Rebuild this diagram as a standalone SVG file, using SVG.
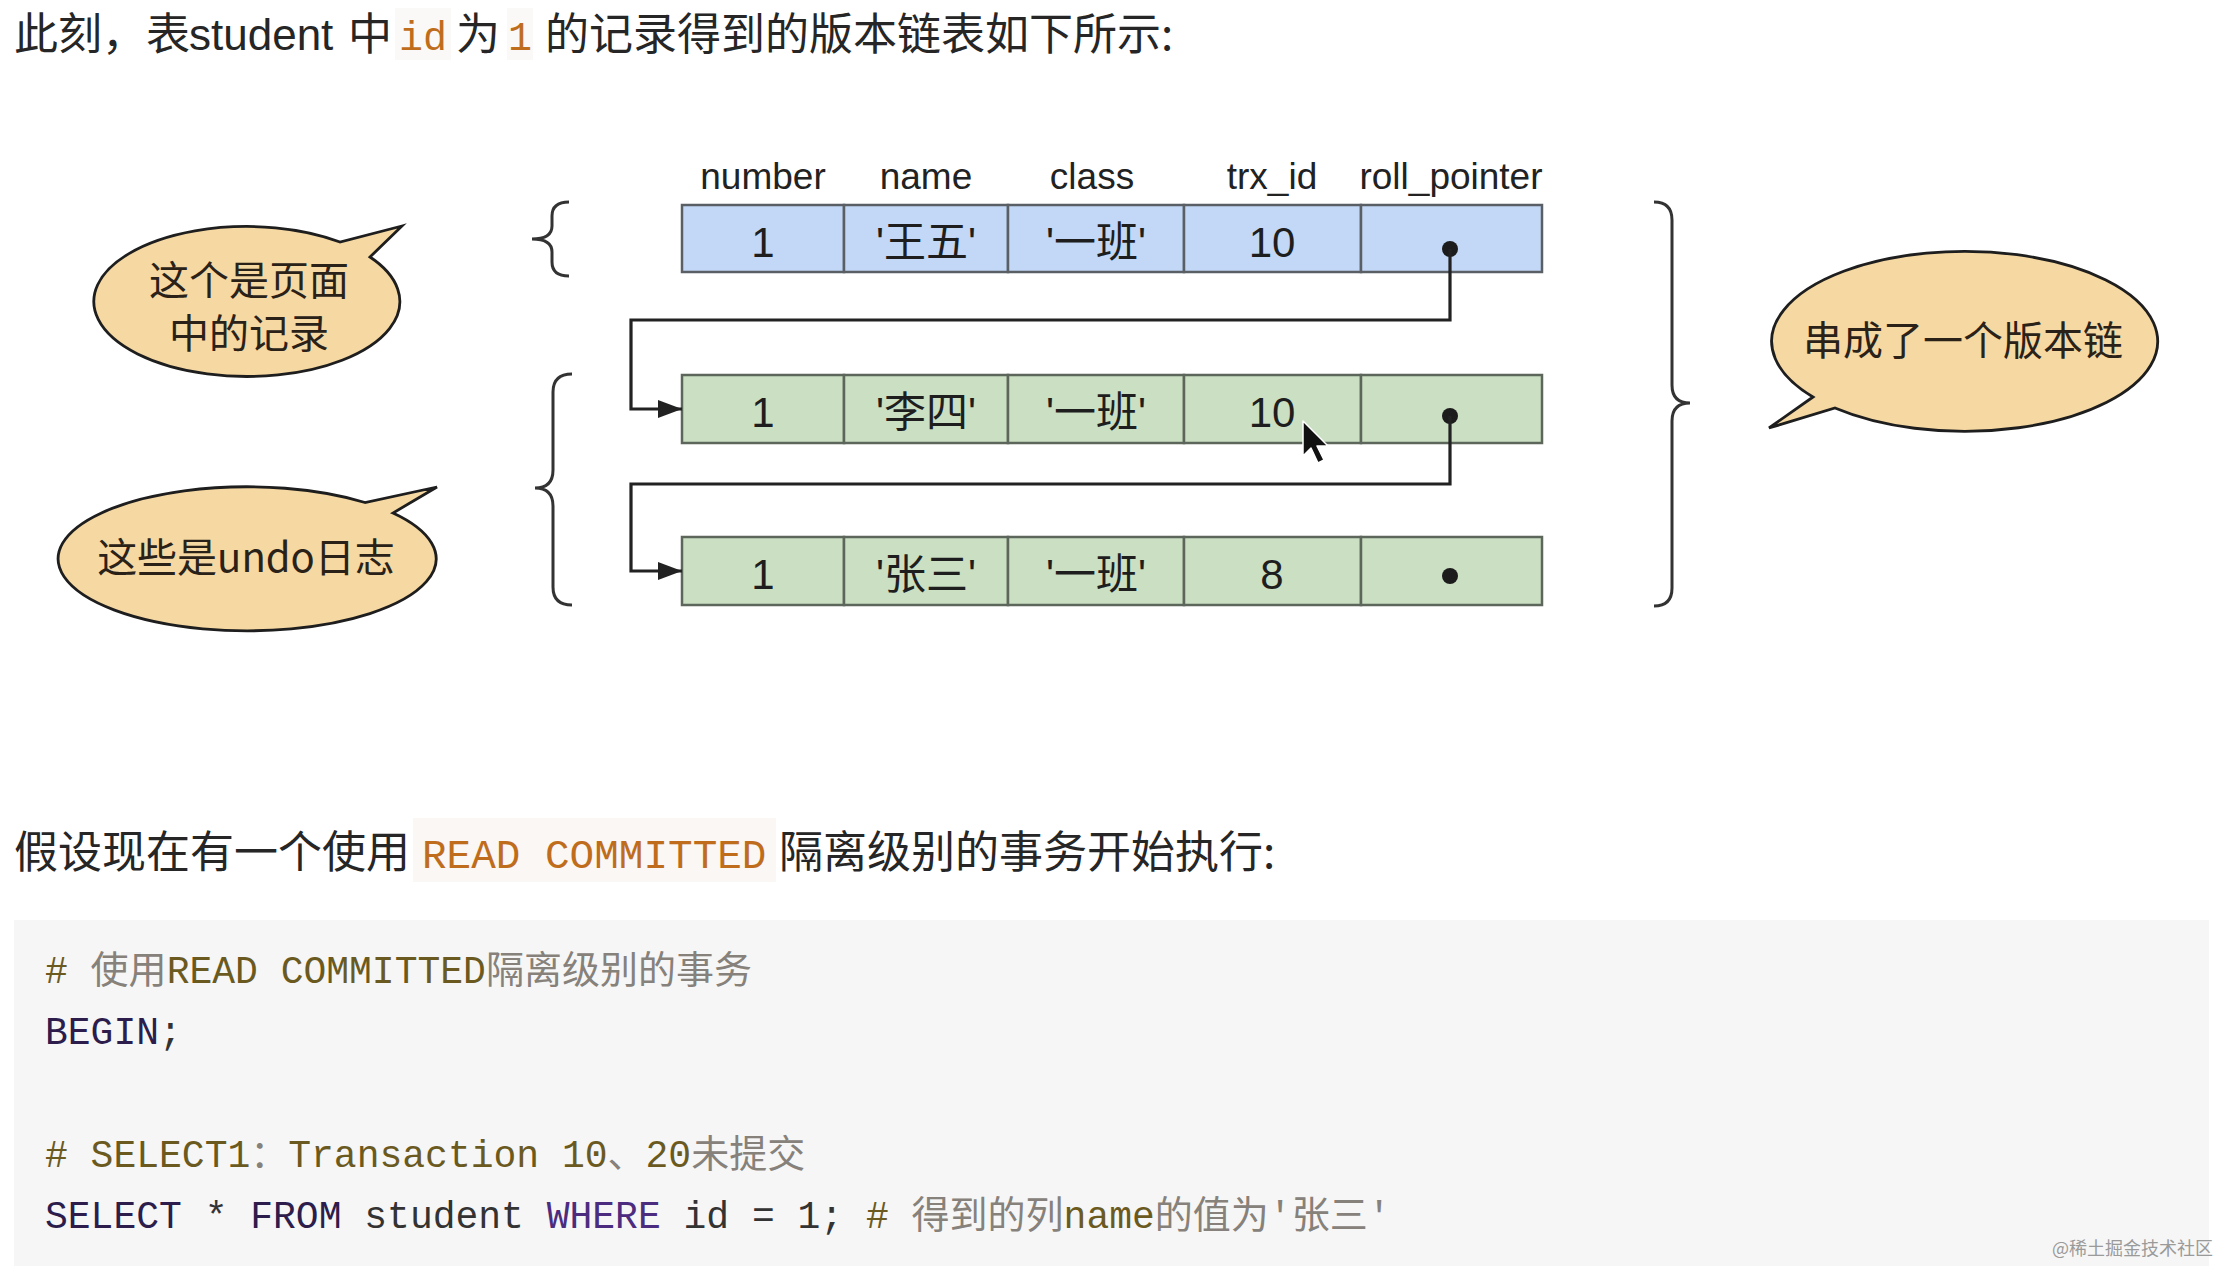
<svg xmlns="http://www.w3.org/2000/svg" width="2220" height="1266" viewBox="0 0 2220 1266">
<style>
.prose{font-family:"Noto Sans CJK SC","Noto Sans",sans-serif;font-size:44px;fill:#262626}
.lat{font-family:"Liberation Sans","Noto Sans CJK SC",sans-serif}
.icode{font-family:"Liberation Mono","Noto Sans CJK SC",monospace;fill:#bf6d1c}
.hdr{font-family:"Liberation Sans","Noto Sans CJK SC",sans-serif;font-size:37px;fill:#222;text-anchor:middle}
.val{font-family:"Liberation Sans","Noto Sans CJK SC",sans-serif;font-size:42px;fill:#1e1e1e;text-anchor:middle}
.cellB{fill:#c2d8f6;stroke:#5a5f66;stroke-width:2.5}
.cellG{fill:#cbdfc3;stroke:#5d665a;stroke-width:2.5}
.dot{fill:#1c1c1c}
.link{fill:none;stroke:#222;stroke-width:3.2}
.brace{fill:none;stroke:#333;stroke-width:3}
.bubble{fill:#f5d8a2;stroke:#1e1e1e;stroke-width:2.8;stroke-linejoin:miter}
.btxt{font-family:"Noto Sans CJK SC","Noto Sans",sans-serif;font-size:40px;fill:#2a2218;text-anchor:middle}
.code{font-family:"Liberation Mono","Noto Sans CJK SC",monospace;font-size:38px;fill:#333}
.cm{fill:#6b5a1f}
.cmz{fill:#86817a}
.kw{fill:#2c1d4c}
.kw2{fill:#4b2c7f}
</style>
<defs>
<marker id="arr" markerUnits="userSpaceOnUse" markerWidth="26" markerHeight="20" refX="24" refY="10" orient="auto">
<path d="M0,1 L24,10 L0,19 Z" fill="#222"/>
</marker>
</defs>
<rect width="2220" height="1266" fill="#ffffff"/>

<g id="title">
<rect x="395" y="8" width="56" height="52" fill="#fbf9f8"/>
<rect x="507" y="8" width="26" height="52" fill="#fbf9f8"/>
<text class="prose" y="50" font-size="43"><tspan x="14">此刻，表</tspan><tspan x="189" class="lat">student</tspan><tspan x="348">中</tspan><tspan x="399" class="icode" font-size="40">id</tspan><tspan x="456">为</tspan><tspan x="508" class="icode" font-size="40">1</tspan><tspan x="545">的记录得到的版本链表如下所示:</tspan></text>
</g>

<g id="headers">
<text class="hdr" x="763" y="189">number</text>
<text class="hdr" x="926" y="189">name</text>
<text class="hdr" x="1092" y="189">class</text>
<text class="hdr" x="1272" y="189">trx_id</text>
<text class="hdr" x="1451" y="189">roll_pointer</text>
</g>

<g id="row1">
<rect class="cellB" x="682" y="205" width="162" height="67"/>
<rect class="cellB" x="844" y="205" width="164" height="67"/>
<rect class="cellB" x="1008" y="205" width="176" height="67"/>
<rect class="cellB" x="1184" y="205" width="177" height="67"/>
<rect class="cellB" x="1361" y="205" width="181" height="67"/>
<text class="val" x="763" y="257">1</text>
<text class="val" x="926" y="257">'王五'</text>
<text class="val" x="1096" y="257">'一班'</text>
<text class="val" x="1272" y="257">10</text>
<circle class="dot" cx="1450" cy="249" r="8"/>
</g>

<g id="row2">
<rect class="cellG" x="682" y="375" width="162" height="68"/>
<rect class="cellG" x="844" y="375" width="164" height="68"/>
<rect class="cellG" x="1008" y="375" width="176" height="68"/>
<rect class="cellG" x="1184" y="375" width="177" height="68"/>
<rect class="cellG" x="1361" y="375" width="181" height="68"/>
<text class="val" x="763" y="427">1</text>
<text class="val" x="926" y="427">'李四'</text>
<text class="val" x="1096" y="427">'一班'</text>
<text class="val" x="1272" y="427">10</text>
<circle class="dot" cx="1450" cy="416" r="8"/>
</g>

<g id="row3">
<rect class="cellG" x="682" y="537" width="162" height="68"/>
<rect class="cellG" x="844" y="537" width="164" height="68"/>
<rect class="cellG" x="1008" y="537" width="176" height="68"/>
<rect class="cellG" x="1184" y="537" width="177" height="68"/>
<rect class="cellG" x="1361" y="537" width="181" height="68"/>
<text class="val" x="763" y="589">1</text>
<text class="val" x="926" y="589">'张三'</text>
<text class="val" x="1096" y="589">'一班'</text>
<text class="val" x="1272" y="589">8</text>
<circle class="dot" cx="1450" cy="576" r="8"/>
</g>

<g id="connectors">
<path class="link" d="M1450 249 V320 H631 V409 H682" marker-end="url(#arr)"/>
<path class="link" d="M1450 416 V484 H631 V571 H682" marker-end="url(#arr)"/>
</g>

<g id="braces">
<path class="brace" d="M569 202 Q552 202 552 216 L552 226 Q552 239 532 239 Q552 239 552 252 L552 262 Q552 276 569 276"/>
<path class="brace" d="M572 374 Q553 374 553 392 L553 470 Q553 488 535 488 Q553 488 553 506 L553 587 Q553 605 572 605"/>
<path class="brace" d="M1654 202 Q1672 202 1672 220 L1672 385 Q1672 403 1690 403 Q1672 403 1672 421 L1672 588 Q1672 606 1654 606"/>
</g>

<g id="bubble-page">
<path class="bubble" d="M402 226 L340 242 A153 75 0 1 0 370 257 Z"/>
<text class="btxt" x="249" y="295" font-size="39">这个是页面</text>
<text class="btxt" x="249" y="348" font-size="39">中的记录</text>
</g>

<g id="bubble-undo">
<path class="bubble" d="M437 487 L365 502.5 A189 72 0 1 0 393 513 Z"/>
<text class="btxt" x="246" y="572" font-size="39">这些是undo日志</text>
</g>

<g id="bubble-chain">
<path class="bubble" d="M1769 428 L1813 397 A193 90 0 1 1 1835 408 Z"/>
<text class="btxt" x="1963" y="355">串成了一个版本链</text>
</g>

<g id="cursor">
<path d="M1303 421 L1303 456 L1311 448 L1318 463 L1324 460 L1317 446 L1328 446 Z" fill="#111" stroke="#fff" stroke-width="1.5" stroke-linejoin="round"/>
</g>

<g id="para2">
<rect x="413" y="818" width="363" height="64" fill="#faf7f5"/>
<text class="prose" y="868"><tspan x="14">假设现在有一个使用</tspan><tspan x="422" class="icode" font-size="41">READ COMMITTED</tspan><tspan x="779">隔离级别的事务开始执行:</tspan></text>
</g>

<g id="codeblock">
<rect x="14" y="920" width="2195" height="346" fill="#f6f6f6"/>
<text class="code" x="45" y="983"><tspan class="cm"># </tspan><tspan class="cmz">使用</tspan><tspan class="cm">READ COMMITTED</tspan><tspan class="cmz">隔离级别的事务</tspan></text>
<text class="code" x="45" y="1044"><tspan class="kw">BEGIN</tspan>;</text>
<text class="code" x="45" y="1167"><tspan class="cm"># SELECT1</tspan><tspan class="cmz">：</tspan><tspan class="cm">Transaction 10</tspan><tspan class="cmz">、</tspan><tspan class="cm">20</tspan><tspan class="cmz">未提交</tspan></text>
<text class="code" x="45" y="1228"><tspan class="kw">SELECT</tspan> * <tspan class="kw">FROM</tspan> student <tspan class="kw2">WHERE</tspan> id = 1; <tspan class="cm">#</tspan> <tspan class="cmz">得到的列</tspan><tspan class="cm">name</tspan><tspan class="cmz">的值为'张三'</tspan></text>
</g>

<g id="watermark">
<text x="2213" y="1255" font-family="Noto Sans CJK SC, sans-serif" font-size="18" fill="#9a9a9a" text-anchor="end">@稀土掘金技术社区</text>
</g>
</svg>
